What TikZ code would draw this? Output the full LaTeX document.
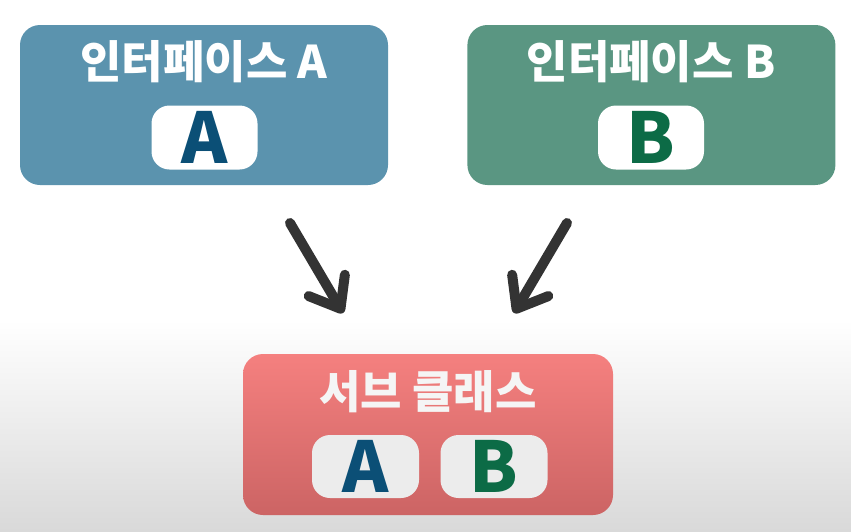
\documentclass[tikz,border=0pt]{standalone}
\usepackage{fontspec}
\newfontfamily\kr{Noto Sans CJK KR}
\usetikzlibrary{arrows.meta,positioning}
\definecolor{ifblue}{HTML}{5B93AE}
\definecolor{ifgreen}{HTML}{5A9682}
\definecolor{subtop}{HTML}{F5807F}
\definecolor{subbot}{HTML}{CC6464}
\definecolor{letA}{HTML}{0B4F76}
\definecolor{letB}{HTML}{0C6B46}
\definecolor{arrgray}{HTML}{333333}
\definecolor{pillgray}{HTML}{ECECEC}
\definecolor{floorgray}{HTML}{D9D9D9}

\begin{document}
\begin{tikzpicture}[
  x=1pt,y=-1pt,
  box/.style={rounded corners=20pt,minimum width=368pt,minimum height=160pt,inner sep=0pt},
  title/.style={text=white,font=\kr\bfseries\fontsize{45}{45}\selectfont,inner sep=0pt},
  pill/.style={fill=white,rounded corners=18pt,minimum width=106pt,minimum height=64pt,inner sep=0pt,
    font=\kr\bfseries\fontsize{70}{70}\selectfont},
  arr/.style={draw=arrgray,line width=10pt,line cap=round,-{Straight Barb[length=27pt,width=42pt,round]}}
]
\useasboundingbox (0,0) rectangle (851,531);
\shade[top color=white,bottom color=floorgray] (0,320) rectangle (851,531);

% interfaces
\node[box,fill=ifblue] (ifA) at (204,105) {};
\node[box,fill=ifgreen,right=79pt of ifA] (ifB) {};
\node[title] (tA) at (204,62) {인터페이스 A};
\node[title] (tB) at (651,62) {인터페이스 B};
\node[pill,text=letA] (pA) at (204.5,137.5) {A};
\node[pill,text=letB] (pB) at (651,137.5) {B};

% sub class
\node[box,minimum width=370pt,minimum height=161pt,top color=subtop,bottom color=subbot] (sub) at (428,434.5) {};
\node[title,text=white!92!gray] (tS) at (428,392) {서브 클래스};
\node[pill,fill=pillgray,text=letA,minimum width=107pt,minimum height=63pt] (sA) at (365.5,466.5) {A};
\node[pill,fill=pillgray,text=letB,minimum width=107pt,minimum height=63pt] (sB) at (494,466.5) {B};

% arrows
\coordinate (a1s) at (290,223);
\coordinate (a1e) at (343,313);
\coordinate (a2s) at (567,223);
\coordinate (a2e) at (514,313);
\draw[arr] (a1s) -- (a1e);
\draw[arr] (a2s) -- (a2e);
\end{tikzpicture}
\end{document}
